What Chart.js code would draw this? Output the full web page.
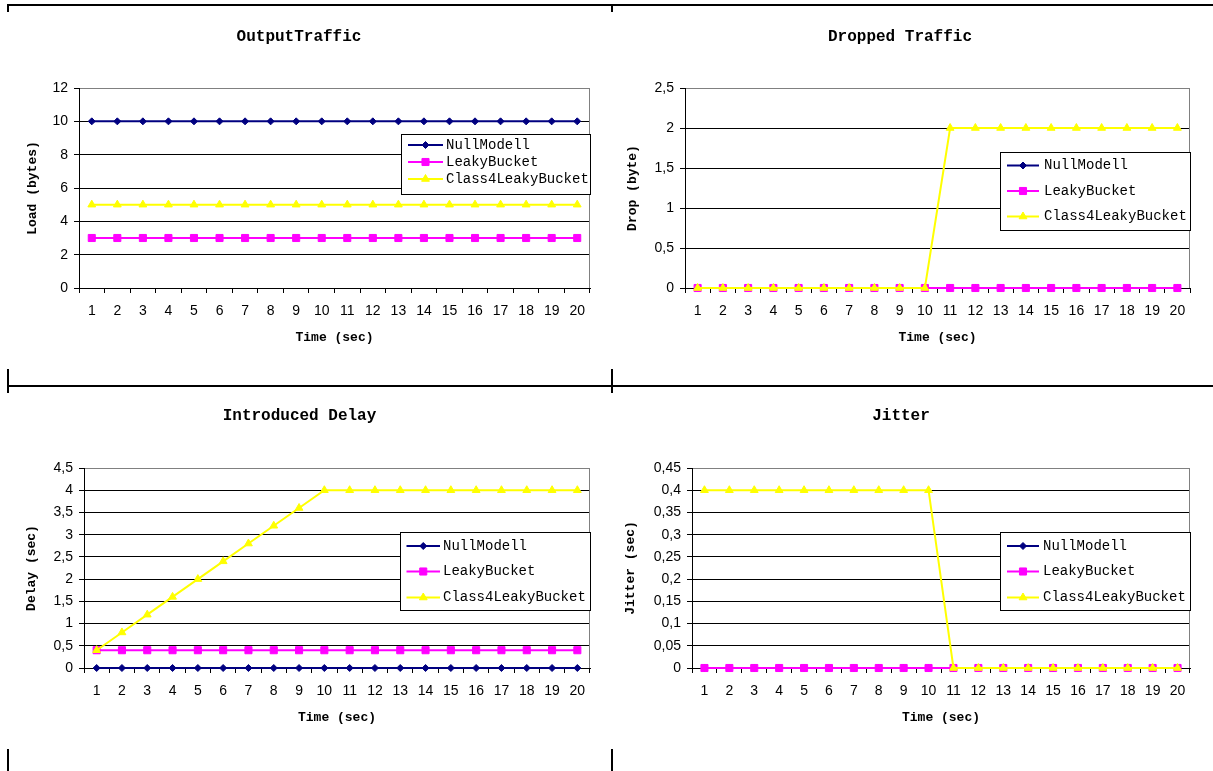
<!DOCTYPE html>
<html>
<head>
<meta charset="utf-8">
<script src="https://cdn.jsdelivr.net/npm/chart.js@4.4.1/dist/chart.umd.min.js"></script>
<style>
  html, body { margin: 0; padding: 0; background: #fff; }
  body { width: 1213px; height: 771px; position: relative; overflow: hidden; }
  canvas { position: absolute; }
  .rule { position: absolute; background: #000; z-index: 2; }
</style>
</head>
<body>
<!-- table rules around the four panels -->
<div class="rule" style="left:7px;top:4px;width:1206px;height:2px"></div>
<div class="rule" style="left:7px;top:4px;width:2px;height:8px"></div>
<div class="rule" style="left:611px;top:4px;width:2px;height:8px"></div>
<div class="rule" style="left:7px;top:385px;width:1206px;height:2px"></div>
<div class="rule" style="left:7px;top:369px;width:2px;height:24px"></div>
<div class="rule" style="left:611px;top:369px;width:2px;height:24px"></div>
<div class="rule" style="left:7px;top:749px;width:2px;height:22px"></div>
<div class="rule" style="left:611px;top:749px;width:2px;height:22px"></div>

<canvas id="c1"></canvas>
<canvas id="c2"></canvas>
<canvas id="c3"></canvas>
<canvas id="c4"></canvas>

<script>
// ---- data ----
const timeLabels = ['1','2','3','4','5','6','7','8','9','10','11','12','13','14','15','16','17','18','19','20'];
const seriesNames = ['NullModell', 'LeakyBucket', 'Class4LeakyBucket'];
const chartTitles = ['OutputTraffic', 'Dropped Traffic', 'Introduced Delay', 'Jitter'];
const xAxisTitle = 'Time (sec)';
const yAxisTitles = ['Load (bytes)', 'Drop (byte)', 'Delay (sec)', 'Jitter (sec)'];

// Output traffic (bytes)
const outputNull   = [10,10,10,10,10,10,10,10,10,10,10,10,10,10,10,10,10,10,10,10];
const outputLeaky  = [3,3,3,3,3,3,3,3,3,3,3,3,3,3,3,3,3,3,3,3];
const outputClass4 = [5,5,5,5,5,5,5,5,5,5,5,5,5,5,5,5,5,5,5,5];

// Dropped traffic (byte)
const dropNull   = [0,0,0,0,0,0,0,0,0,0,0,0,0,0,0,0,0,0,0,0];
const dropLeaky  = [0,0,0,0,0,0,0,0,0,0,0,0,0,0,0,0,0,0,0,0];
const dropClass4 = [0,0,0,0,0,0,0,0,0,0,2,2,2,2,2,2,2,2,2,2];

// Introduced delay (sec)
const delayNull   = [0,0,0,0,0,0,0,0,0,0,0,0,0,0,0,0,0,0,0,0];
const delayLeaky  = [0.4,0.4,0.4,0.4,0.4,0.4,0.4,0.4,0.4,0.4,0.4,0.4,0.4,0.4,0.4,0.4,0.4,0.4,0.4,0.4];
const delayClass4 = [0.4,0.8,1.2,1.6,2.0,2.4,2.8,3.2,3.6,4.0,4.0,4.0,4.0,4.0,4.0,4.0,4.0,4.0,4.0,4.0];

// Jitter (sec)
const jitterNull   = [0,0,0,0,0,0,0,0,0,0,0,0,0,0,0,0,0,0,0,0];
const jitterLeaky  = [0,0,0,0,0,0,0,0,0,0,0,0,0,0,0,0,0,0,0,0];
const jitterClass4 = [0.4,0.4,0.4,0.4,0.4,0.4,0.4,0.4,0.4,0.4,0,0,0,0,0,0,0,0,0,0];

// value-axis tick labels
const outputTicks = ['0','2','4','6','8','10','12'];
const dropTicks   = ['0','0,5','1','1,5','2','2,5'];
const delayTicks  = ['0','0,5','1','1,5','2','2,5','3','3,5','4','4,5'];
const jitterTicks = ['0','0,05','0,1','0,15','0,2','0,25','0,3','0,35','0,4','0,45'];

// ---- styles ----
const MONO = '"Liberation Mono", "DejaVu Sans Mono", monospace';
const SANS = '"Liberation Sans", Arial, sans-serif';
const seriesStyles = [
  { color: '#000080', pointStyle: 'rectRot',  radius: 3.5, order: 3 },
  { color: '#FF00FF', pointStyle: 'rect',     radius: 5,   order: 2 },
  { color: '#FFFF00', pointStyle: 'triangle', radius: 4.5, order: 1 }
];

// page layout of each panel (page pixels)
const panels = [
  { id: 'c1', canvas: { x: 8,   y: 15,  w: 584, h: 355 }, area: { l: 79,  t: 88,  r: 590,  b: 288 },
    titleY: 36.5, yTitleX: 33, xTitleY: 337.5,
    legend: { x: 401,  y: 134, w: 189, h: 60, rows: [145, 162, 179],       lineX1: 408,  lineX2: 443,  textX: 446 } },
  { id: 'c2', canvas: { x: 610, y: 15,  w: 582, h: 355 }, area: { l: 685, t: 88,  r: 1190, b: 288 },
    titleY: 36.5, yTitleX: 632.5, xTitleY: 337.5,
    legend: { x: 1000, y: 152, w: 190, h: 78, rows: [165.5, 191, 216.5],   lineX1: 1007, lineX2: 1039, textX: 1044 } },
  { id: 'c3', canvas: { x: 9,   y: 395, w: 583, h: 350 }, area: { l: 84,  t: 468, r: 590,  b: 668 },
    titleY: 416, yTitleX: 32, xTitleY: 718,
    legend: { x: 400,  y: 532, w: 190, h: 78, rows: [546, 571.5, 597.5],   lineX1: 406.5, lineX2: 440, textX: 443 } },
  { id: 'c4', canvas: { x: 612, y: 395, w: 580, h: 350 }, area: { l: 692, t: 468, r: 1190, b: 668 },
    titleY: 416, yTitleX: 631, xTitleY: 718,
    legend: { x: 1000, y: 532, w: 190, h: 78, rows: [546, 571.5, 597.5],   lineX1: 1007, lineX2: 1039, textX: 1043 } }
];

const chartSeries = [
  [outputNull, outputLeaky, outputClass4],
  [dropNull, dropLeaky, dropClass4],
  [delayNull, delayLeaky, delayClass4],
  [jitterNull, jitterLeaky, jitterClass4]
];
const chartTicks = [outputTicks, dropTicks, delayTicks, jitterTicks];

const num = s => parseFloat(s.replace(',', '.'));

// fallback marker painter in case helpers are not exposed
function paintPoint(ctx, style, radius, x, y) {
  if (window.Chart && Chart.helpers && Chart.helpers.drawPoint) {
    Chart.helpers.drawPoint(ctx, { pointStyle: style, radius: radius, rotation: 0, borderWidth: ctx.lineWidth }, x, y);
    return;
  }
  ctx.beginPath();
  if (style === 'rect') {
    const s = radius * Math.SQRT1_2;
    ctx.rect(x - s, y - s, 2 * s, 2 * s);
  } else if (style === 'rectRot') {
    ctx.moveTo(x, y - radius); ctx.lineTo(x + radius, y); ctx.lineTo(x, y + radius); ctx.lineTo(x - radius, y);
    ctx.closePath();
  } else {
    ctx.moveTo(x, y - radius);
    ctx.lineTo(x + radius * 0.866, y + radius / 2);
    ctx.lineTo(x - radius * 0.866, y + radius / 2);
    ctx.closePath();
  }
  ctx.fill(); ctx.stroke();
}

// boxed legend drawn inside the plot, entries in dataset order
const boxLegend = {
  id: 'boxLegend',
  afterDatasetsDraw(chart, args, opts) {
    const ctx = chart.ctx;
    ctx.save();
    ctx.fillStyle = '#fff';
    ctx.fillRect(opts.x, opts.y, opts.w, opts.h);
    ctx.strokeStyle = '#000';
    ctx.lineWidth = 1;
    ctx.strokeRect(Math.round(opts.x) + 0.5, Math.round(opts.y) + 0.5, Math.round(opts.w), Math.round(opts.h));
    chart.data.datasets.forEach((ds, i) => {
      const y = opts.rows[i];
      ctx.strokeStyle = ds.borderColor;
      ctx.lineWidth = ds.borderWidth;
      ctx.beginPath();
      ctx.moveTo(opts.lineX1, y);
      ctx.lineTo(opts.lineX2, y);
      ctx.stroke();
      ctx.fillStyle = ds.pointBackgroundColor;
      ctx.strokeStyle = ds.pointBorderColor;
      ctx.lineWidth = ds.pointBorderWidth;
      paintPoint(ctx, ds.pointStyle, ds.pointRadius, (opts.lineX1 + opts.lineX2) / 2, y);
      ctx.fillStyle = '#000';
      ctx.font = '14px ' + MONO;
      ctx.textBaseline = 'middle';
      ctx.textAlign = 'left';
      ctx.fillText(ds.label, opts.textX, y);
    });
    ctx.restore();
  }
};

// grey frame on the right side of the plot area
const plotFrame = {
  id: 'plotFrame',
  beforeDatasetsDraw(chart) {
    const { top, right, bottom } = chart.chartArea;
    const ctx = chart.ctx;
    const x = Math.round(right) - 0.5;
    ctx.save();
    ctx.strokeStyle = '#808080';
    ctx.lineWidth = 1;
    ctx.beginPath();
    ctx.moveTo(x, Math.round(top));
    ctx.lineTo(x, Math.round(bottom));
    ctx.stroke();
    ctx.restore();
  }
};

Chart.defaults.font.family = SANS;
Chart.defaults.color = '#000';

panels.forEach((p, k) => {
  const cv = document.getElementById(p.id);
  cv.width = p.canvas.w;
  cv.height = p.canvas.h;
  cv.style.left = p.canvas.x + 'px';
  cv.style.top = p.canvas.y + 'px';
  cv.style.width = p.canvas.w + 'px';
  cv.style.height = p.canvas.h + 'px';

  const ticks = chartTicks[k];
  const yMin = num(ticks[0]);
  const yMax = num(ticks[ticks.length - 1]);
  const yStep = num(ticks[1]) - num(ticks[0]);

  const titleLH = 16 * 1.2;
  const axisLH = 13 * 1.2;
  const titlePadTop = p.titleY - p.canvas.y - titleLH / 2;
  const titlePadBottom = (p.area.t - p.canvas.y) - titlePadTop - titleLH;
  const yWidth = p.area.l - p.canvas.x;
  const yTitlePad = p.yTitleX - p.canvas.x - axisLH / 2;
  const xHeight = p.xTitleY + axisLH / 2 - p.area.b;
  const padRight = p.canvas.x + p.canvas.w - p.area.r;
  const padBottom = p.canvas.y + p.canvas.h - (p.xTitleY + axisLH / 2);

  const datasets = chartSeries[k].map((vals, i) => {
    const st = seriesStyles[i];
    return {
      label: seriesNames[i],
      data: vals,
      borderColor: st.color,
      backgroundColor: st.color,
      borderWidth: 2,
      pointStyle: st.pointStyle,
      pointRadius: st.radius,
      pointBackgroundColor: st.color,
      pointBorderColor: st.color,
      pointBorderWidth: 1,
      pointHoverRadius: st.radius,
      tension: 0,
      clip: false,
      order: st.order
    };
  });

  new Chart(cv, {
    type: 'line',
    data: { labels: timeLabels, datasets: datasets },
    plugins: [plotFrame, boxLegend],
    options: {
      responsive: false,
      animation: false,
      devicePixelRatio: 1,
      layout: { autoPadding: false, padding: { left: 0, top: 0, right: padRight, bottom: padBottom } },
      plugins: {
        legend: { display: false },
        tooltip: { enabled: false },
        title: {
          display: true,
          text: chartTitles[k],
          color: '#000',
          font: { family: MONO, size: 16, weight: 'bold', lineHeight: 1.2 },
          padding: { top: titlePadTop, bottom: titlePadBottom }
        },
        boxLegend: {
          x: p.legend.x - p.canvas.x,
          y: p.legend.y - p.canvas.y,
          w: p.legend.w,
          h: p.legend.h,
          rows: p.legend.rows.map(r => r - p.canvas.y),
          lineX1: p.legend.lineX1 - p.canvas.x,
          lineX2: p.legend.lineX2 - p.canvas.x,
          textX: p.legend.textX - p.canvas.x
        }
      },
      scales: {
        x: {
          type: 'category',
          offset: true,
          grid: { offset: true, drawOnChartArea: false, drawTicks: true, tickLength: 5, color: '#000', tickColor: '#000' },
          border: { display: true, color: '#000', width: 1 },
          ticks: { font: { family: SANS, size: 14 }, color: '#000', padding: 10, maxRotation: 0, autoSkip: false },
          title: {
            display: true,
            text: xAxisTitle,
            color: '#000',
            font: { family: MONO, size: 13, weight: 'bold', lineHeight: 1.2 },
            padding: { top: 0, bottom: 0 }
          },
          afterFit: s => { s.height = xHeight; s.paddingLeft = 0; s.paddingRight = 0; }
        },
        y: {
          min: yMin,
          max: yMax,
          grid: {
            drawTicks: true,
            tickLength: 5,
            color: c => (c.tick && Math.abs(c.tick.value - yMax) < 1e-9) ? '#808080' : '#000',
            tickColor: '#000',
            lineWidth: 1
          },
          border: { display: true, color: '#000', width: 1 },
          ticks: {
            stepSize: yStep,
            font: { family: SANS, size: 14 },
            color: '#000',
            padding: 6,
            callback: (v, i) => ticks[i]
          },
          title: {
            display: true,
            text: yAxisTitles[k],
            color: '#000',
            font: { family: MONO, size: 13, weight: 'bold', lineHeight: 1.2 },
            padding: { top: yTitlePad, bottom: 0 }
          },
          afterFit: s => { s.width = yWidth; }
        }
      }
    }
  });
});
</script>
</body>
</html>
